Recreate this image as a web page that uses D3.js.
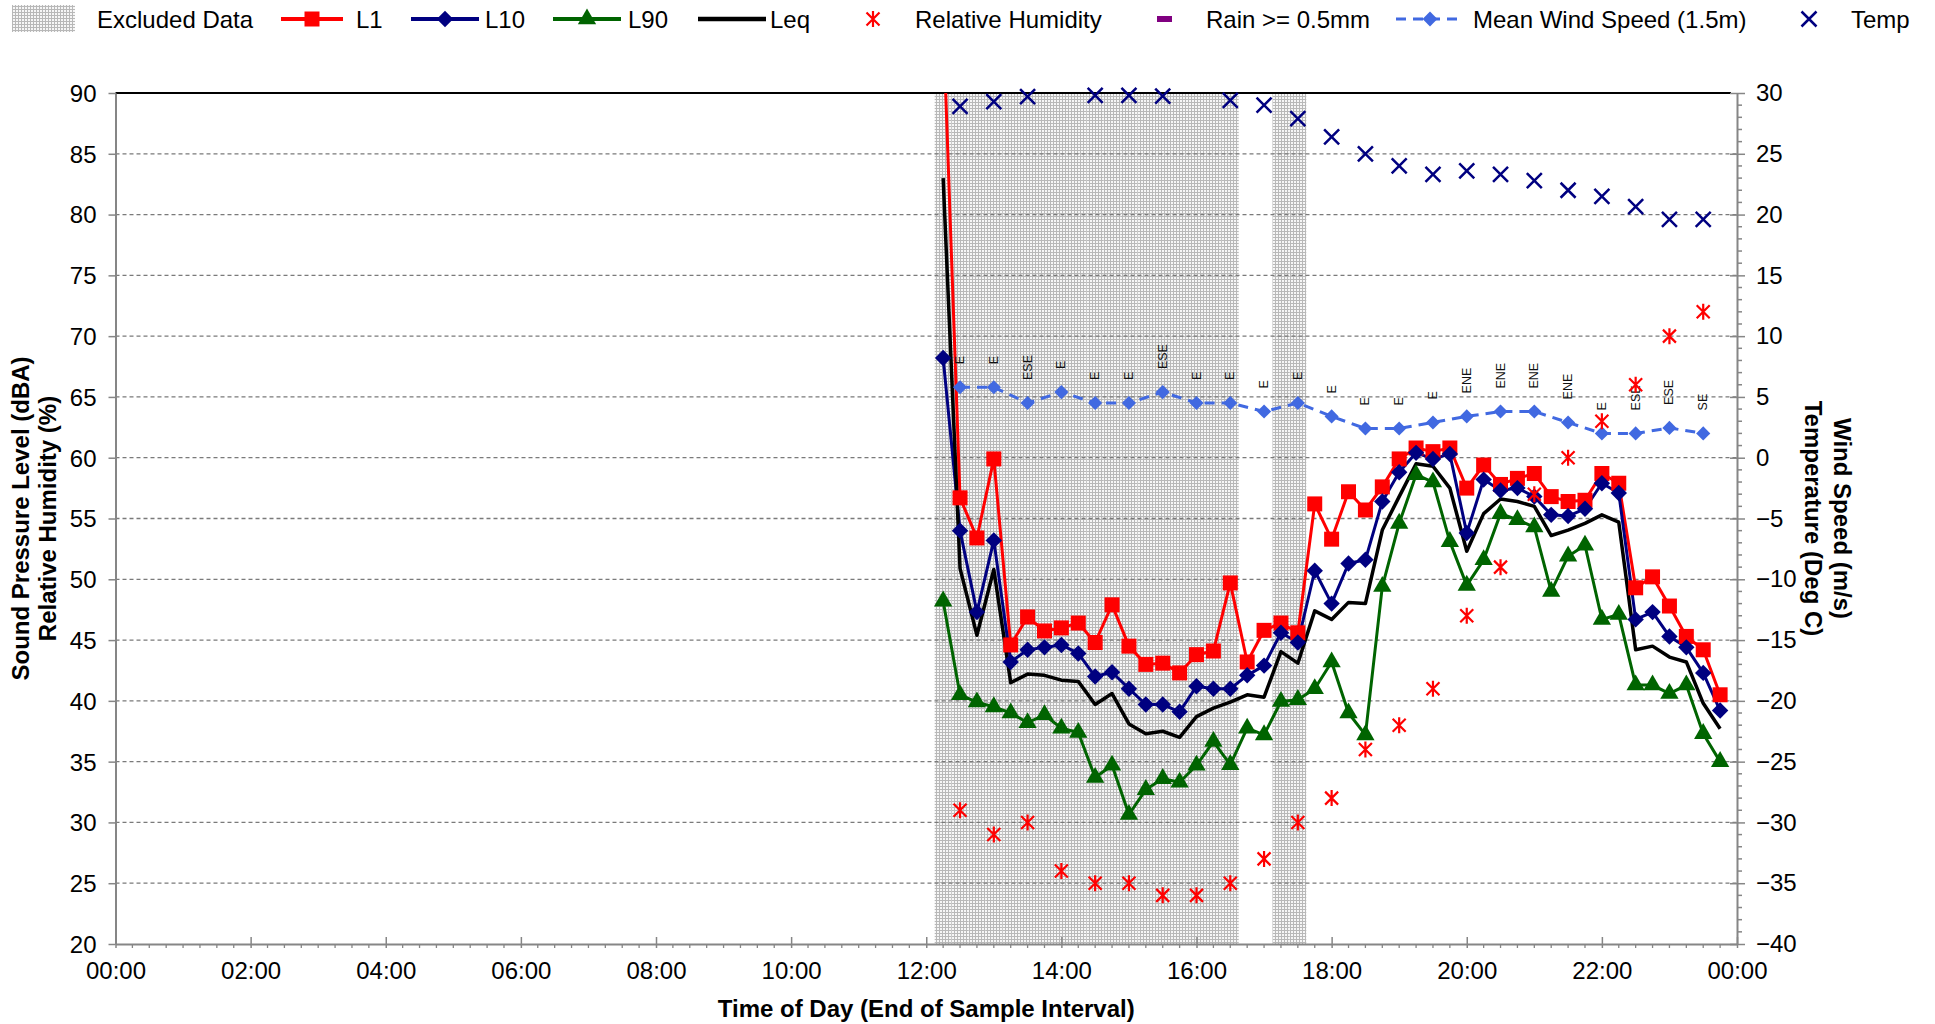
<!DOCTYPE html>
<html><head><meta charset="utf-8">
<script src="https://cdn.jsdelivr.net/npm/d3@7"></script>
<style>
body{margin:0;background:#fff;}
svg{display:block;font-family:"Liberation Sans",Arial,sans-serif;}
</style></head><body>
<svg id="chart" width="1935" height="1024"></svg>
<script>
// ---------------- DATA ----------------
const soundTimes = ["12:15","12:30","12:45","13:00","13:15","13:30","13:45","14:00","14:15","14:30","14:45","15:00",
  "15:15","15:30","15:45","16:00","16:15","16:30","16:45","17:00","17:15","17:30","17:45","18:00","18:15","18:30",
  "18:45","19:00","19:15","19:30","19:45","20:00","20:15","20:30","20:45","21:00","21:15","21:30","21:45","22:00",
  "22:15","22:30","22:45","23:00","23:15","23:30","23:45"];
const L1 = [96,56.7,53.4,59.9,44.6,46.9,45.75,46.0,46.4,44.8,47.9,44.5,43.0,43.1,42.3,43.8,44.1,49.7,43.2,45.8,46.4,45.6,
  56.2,53.3,57.2,55.7,57.6,59.9,60.8,60.5,60.8,57.5,59.4,57.8,58.3,58.7,56.8,56.4,56.5,58.7,57.9,49.3,50.2,47.8,45.3,44.2,40.5];
const L10 = [68.2,54.0,47.3,53.2,43.2,44.2,44.4,44.6,43.9,42.0,42.35,41.0,39.7,39.7,39.1,41.2,41.0,41.0,42.1,42.9,45.6,44.8,
  50.7,48.0,51.3,51.6,56.4,58.8,60.4,59.9,60.3,53.8,58.2,57.3,57.5,56.8,55.3,55.2,55.8,57.9,57.1,46.7,47.3,45.3,44.4,42.3,39.2];
const L90 = [48.2,40.5,39.9,39.5,39.0,38.2,38.85,37.75,37.4,33.7,34.7,30.65,32.7,33.6,33.3,34.7,36.65,34.75,37.75,37.2,39.95,40.1,
  41.0,43.2,39.0,37.2,49.4,54.6,58.6,58.0,53.1,49.5,51.6,55.4,54.9,54.3,49.0,51.9,52.8,46.7,47.1,41.3,41.3,40.6,41.3,37.3,35.0];
const Leq = [83,50.9,45.4,50.8,41.5,42.2,42.1,41.7,41.6,39.7,40.6,38.1,37.3,37.5,37.0,38.7,39.4,39.9,40.5,40.3,44.05,43.1,
  47.4,46.7,48.1,48.0,54.05,56.8,59.5,59.3,57.5,52.3,55.4,56.6,56.4,56.0,53.6,54.05,54.6,55.3,54.7,44.2,44.5,43.6,43.2,39.8,37.7];

const metTimes = ["12:30","13:00","13:30","14:00","14:30","15:00","15:30","16:00","16:30","17:00","17:30","18:00",
  "18:30","19:00","19:30","20:00","20:30","21:00","21:30","22:00","22:30","23:00","23:30"];
const relHumidity = [31,29,30,26,25,25,24,24,25,27,30,32,36,38,41,47,51,57,60,63,66,70,72];
const windSpeed = [5.8,5.8,4.5,5.4,4.5,4.5,5.4,4.5,4.5,3.8,4.5,3.4,2.4,2.4,2.9,3.4,3.8,3.8,2.9,2.0,2.0,2.45,2.0];
const windDir = ["E","E","ESE","E","E","E","ESE","E","E","E","E","E","E","E","E","ENE","ENE","ENE","ENE","E","ESE","ESE","SE"];
const temperature = [28.9,29.3,29.7,null,29.8,29.8,29.75,null,29.4,29.0,27.9,26.4,25.0,24.0,23.3,23.6,23.3,22.8,22.0,21.5,20.65,19.6,19.6];
const rainTimes = [];   // no rain >= 0.5mm recorded
const excludedTimes = ["12:15","12:30","12:45","13:00","13:15","13:30","13:45","14:00","14:15","14:30","14:45","15:00",
  "15:15","15:30","15:45","16:00","16:15","16:30","17:15","17:30"];

const leftTickValues = [20,25,30,35,40,45,50,55,60,65,70,75,80,85,90];
const rightTickValues = [-40,-35,-30,-25,-20,-15,-10,-5,0,5,10,15,20,25,30];
const xTickLabels = ["00:00","02:00","04:00","06:00","08:00","10:00","12:00","14:00","16:00","18:00","20:00","22:00","00:00"];
const legendLabels = ["Excluded Data","L1","L10","L90","Leq","Relative Humidity","Rain >= 0.5mm","Mean Wind Speed (1.5m)","Temp"];

// ---------------- LAYOUT ----------------
const PL = 115.5, PR = 1737, PT = 93, PB = 944;
const hrs = s => { const [h, m] = s.split(":").map(Number); return h + m / 60; };
const x = d3.scaleLinear().domain([0, 24]).range([PL, PR]);
const yL = d3.scaleLinear().domain([20, 90]).range([PB, PT]);
const yR = d3.scaleLinear().domain([-40, 30]).range([PB, PT]);
const AX = "#868686";
const FONT = 24;

const svg = d3.select("#chart");
const defs = svg.append("defs");
const pat = defs.append("pattern").attr("id", "excl").attr("width", 3).attr("height", 3)
  .attr("patternUnits", "userSpaceOnUse");
pat.append("rect").attr("width", 3).attr("height", 3).attr("fill", "#f6f6f6");
pat.append("rect").attr("width", 3).attr("height", 1).attr("fill", "#b8b8b8");
pat.append("rect").attr("width", 1).attr("height", 3).attr("fill", "#b8b8b8");
defs.append("clipPath").attr("id", "plotClip").append("rect")
  .attr("x", PL).attr("y", PT).attr("width", PR - PL).attr("height", PB - PT);

// excluded data bars
svg.append("g").selectAll("rect").data(excludedTimes).join("rect")
  .attr("x", d => x(hrs(d) - 0.125)).attr("width", d => x(hrs(d) + 0.125) - x(hrs(d) - 0.125))
  .attr("y", PT).attr("height", PB - PT).attr("fill", "url(#excl)");

// gridlines
svg.append("g").selectAll("line").data(leftTickValues.filter(v => v > 20 && v < 90)).join("line")
  .attr("x1", PL).attr("x2", PR).attr("y1", d => yL(d)).attr("y2", d => yL(d))
  .attr("stroke", "#7a7a7a").attr("stroke-width", 1.3).attr("stroke-dasharray", "4,3");
// top line
svg.append("line").attr("x1", PL).attr("x2", PR - 6).attr("y1", PT).attr("y2", PT)
  .attr("stroke", "#000").attr("stroke-width", 2);

// ---------------- AXES ----------------
function styleAxis(g) {
  g.select(".domain").attr("stroke", AX).attr("stroke-width", 2);
  g.selectAll(".tick line").attr("stroke", AX).attr("stroke-width", 1.5);
  g.selectAll(".tick text").attr("font-size", FONT).attr("fill", "#000")
    .attr("font-family", "'Liberation Sans',Arial,sans-serif");
}
const gL = svg.append("g").attr("transform", `translate(${PL},0)`)
  .call(d3.axisLeft(yL).tickValues(leftTickValues).tickSizeInner(7).tickSizeOuter(0).tickPadding(12));
styleAxis(gL);
gL.selectAll(".tick text").attr("dy", "0.35em");

const gR = svg.append("g").attr("transform", `translate(${PR},0)`)
  .call(d3.axisRight(yR).tickValues(rightTickValues).tickSizeInner(8).tickSizeOuter(0).tickPadding(11));
styleAxis(gR);
gR.selectAll(".tick line").attr("x1", -7);
// right minor ticks
svg.append("g").selectAll("line").data(d3.range(-40, 30.01, 1).filter(v => v % 5 !== 0)).join("line")
  .attr("x1", PR).attr("x2", PR + 5).attr("y1", d => yR(d)).attr("y2", d => yR(d))
  .attr("stroke", AX).attr("stroke-width", 1.5);

const xMajor = d3.range(0, 24.01, 2);
const gB = svg.append("g").attr("transform", `translate(0,${PB})`)
  .call(d3.axisBottom(x).tickValues(xMajor).tickFormat((d, i) => xTickLabels[i])
    .tickSizeInner(4).tickSizeOuter(0).tickPadding(14));
styleAxis(gB);
gB.selectAll(".tick line").attr("y1", -7);
svg.append("g").selectAll("line").data(d3.range(0, 24.01, 0.25).filter(v => v % 2 !== 0)).join("line")
  .attr("x1", d => x(d)).attr("x2", d => x(d)).attr("y1", PB).attr("y2", PB + 4)
  .attr("stroke", AX).attr("stroke-width", 1.3);

// axis titles
svg.append("text").attr("x", (PL + PR) / 2).attr("y", 1008).attr("text-anchor", "middle")
  .attr("dominant-baseline", "central").attr("font-weight", "bold").attr("font-size", FONT)
  .text("Time of Day (End of Sample Interval)");
[["Sound Pressure Level (dBA)", 20], ["Relative Humidity (%)", 47]].forEach(([t, cx]) => {
  svg.append("text").attr("transform", `translate(${cx},${(PT + PB) / 2}) rotate(-90)`)
    .attr("text-anchor", "middle").attr("dominant-baseline", "central")
    .attr("font-weight", "bold").attr("font-size", FONT).text(t);
});
[["Wind Speed (m/s)", 1842], ["Temperature (Deg C)", 1813]].forEach(([t, cx]) => {
  svg.append("text").attr("transform", `translate(${cx},${(PT + PB) / 2}) rotate(90)`)
    .attr("text-anchor", "middle").attr("dominant-baseline", "central")
    .attr("font-weight", "bold").attr("font-size", FONT).text(t);
});

// ---------------- SERIES ----------------
const plot = svg.append("g");
const lines = plot.append("g").attr("clip-path", "url(#plotClip)");
const sym = (type, size) => d3.symbol().type(type).size(size)();
const inL = v => v != null && v >= 20 && v <= 90;
const inR = v => v != null && v >= -40 && v <= 30;

const soundSeries = [
  { vals: L1, color: "#ff0000", w: 3, mark: sym(d3.symbolSquare, 225), rot: 0 },
  { vals: L10, color: "#000080", w: 3, mark: sym(d3.symbolSquare, 135), rot: 45 },
  { vals: L90, color: "#006400", w: 3, mark: sym(d3.symbolTriangle, 145), rot: 0 },
  { vals: Leq, color: "#000000", w: 3.5, mark: null, rot: 0 }
];
const lineGen = d3.line().x(d => x(d[0])).y(d => yL(d[1]));
soundSeries.forEach(s => {
  const pts = soundTimes.map((t, i) => [hrs(t), s.vals[i]]);
  lines.append("path").attr("d", lineGen(pts)).attr("fill", "none")
    .attr("stroke", s.color).attr("stroke-width", s.w).attr("stroke-linejoin", "round");
  if (s.mark) {
    plot.append("g").selectAll("path").data(pts.filter(p => inL(p[1]))).join("path")
      .attr("d", s.mark).attr("fill", s.color)
      .attr("transform", p => `translate(${x(p[0])},${yL(p[1])}) rotate(${s.rot})`);
  }
});

// wind speed
const windPts = metTimes.map((t, i) => [hrs(t), windSpeed[i]]);
plot.append("path").attr("d", d3.line().x(d => x(d[0])).y(d => yR(d[1]))(windPts))
  .attr("fill", "none").attr("stroke", "#4169e1").attr("stroke-width", 3).attr("stroke-dasharray", "10,7");
plot.append("g").selectAll("path").data(windPts).join("path")
  .attr("d", sym(d3.symbolSquare, 100)).attr("fill", "#4169e1")
  .attr("transform", p => `translate(${x(p[0])},${yR(p[1])}) rotate(45)`);
// wind direction labels
plot.append("g").selectAll("text").data(windPts).join("text")
  .attr("transform", (p, i) => `translate(${x(p[0])},${yR(p[1]) - 23}) rotate(-90)`)
  .attr("text-anchor", "start").attr("dominant-baseline", "central")
  .attr("font-size", 12.5).attr("fill", "#111").text((p, i) => windDir[i]);

// relative humidity asterisks
const starPath = "M-6.5,-6.5L6.5,6.5M-6.5,6.5L6.5,-6.5M0,-8L0,8";
plot.append("g").selectAll("path").data(metTimes.map((t, i) => [hrs(t), relHumidity[i]]).filter(p => inL(p[1])))
  .join("path").attr("d", starPath).attr("stroke", "#ff0000").attr("stroke-width", 2.2).attr("fill", "none")
  .attr("transform", p => `translate(${x(p[0])},${yL(p[1])})`);

// rain (none)
plot.append("g").selectAll("rect").data(rainTimes).join("rect")
  .attr("x", d => x(hrs(d)) - 7).attr("y", yR(0) - 3).attr("width", 14).attr("height", 6).attr("fill", "#800080");

// temperature crosses
const xPath = "M-7.5,-7.5L7.5,7.5M-7.5,7.5L7.5,-7.5";
plot.append("g").selectAll("path").data(metTimes.map((t, i) => [hrs(t), temperature[i]]).filter(p => inR(p[1])))
  .join("path").attr("d", xPath).attr("stroke", "#000080").attr("stroke-width", 2.5).attr("fill", "none")
  .attr("transform", p => `translate(${x(p[0])},${yR(p[1])})`);

// ---------------- LEGEND ----------------
const LY = 19;
const lg = svg.append("g");
const legText = (tx, label) => lg.append("text").attr("x", tx).attr("y", LY).attr("dominant-baseline", "central")
  .attr("font-size", FONT).text(label);
// Excluded
lg.append("rect").attr("x", 12).attr("y", 5).attr("width", 63).attr("height", 27).attr("fill", "url(#excl)");
legText(97, legendLabels[0]);
// L1, L10, L90, Leq
const legLines = [[281, 343, 356, 0], [411, 479, 485, 1], [553, 621, 628, 2], [698, 766, 770, 3]];
legLines.forEach(([a, b, tx, k]) => {
  const s = soundSeries[k];
  lg.append("line").attr("x1", a).attr("x2", b).attr("y1", LY).attr("y2", LY)
    .attr("stroke", s.color).attr("stroke-width", s.w + 1);
  if (s.mark) lg.append("path").attr("d", s.mark).attr("fill", s.color)
    .attr("transform", `translate(${(a + b) / 2},${LY}) rotate(${s.rot})`);
  legText(tx, legendLabels[k + 1]);
});
// RH
lg.append("path").attr("d", starPath).attr("stroke", "#ff0000").attr("stroke-width", 2.2).attr("fill", "none")
  .attr("transform", `translate(873,${LY})`);
legText(915, legendLabels[5]);
// Rain
lg.append("rect").attr("x", 1157).attr("y", LY - 3).attr("width", 15).attr("height", 6).attr("fill", "#800080");
legText(1206, legendLabels[6]);
// Wind
lg.append("line").attr("x1", 1396).attr("x2", 1463).attr("y1", LY).attr("y2", LY)
  .attr("stroke", "#4169e1").attr("stroke-width", 3).attr("stroke-dasharray", "10,7");
lg.append("path").attr("d", sym(d3.symbolSquare, 110)).attr("fill", "#4169e1")
  .attr("transform", `translate(1430,${LY}) rotate(45)`);
legText(1473, legendLabels[7]);
// Temp
lg.append("path").attr("d", xPath).attr("stroke", "#000080").attr("stroke-width", 2.5).attr("fill", "none")
  .attr("transform", `translate(1809,${LY})`);
legText(1851, legendLabels[8]);
</script>
</body></html>
